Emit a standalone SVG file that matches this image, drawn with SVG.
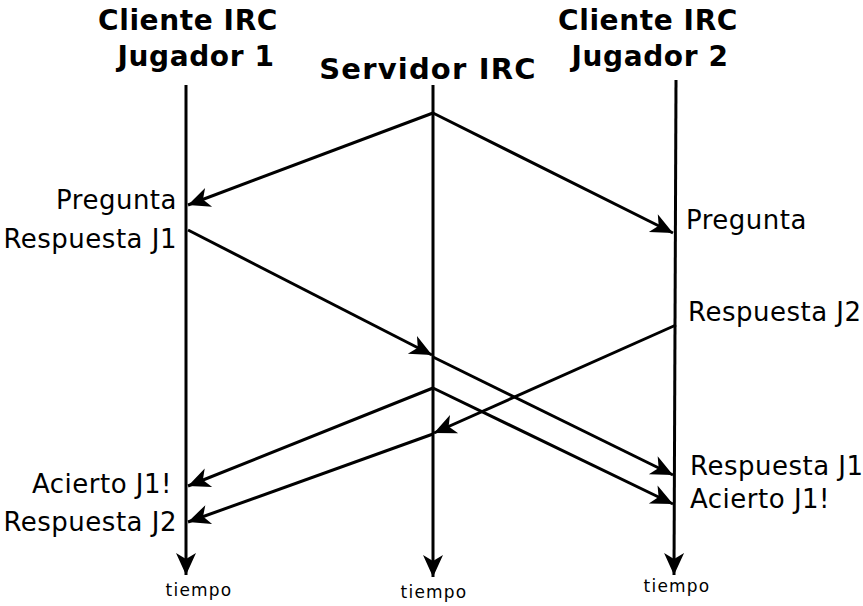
<svg xmlns="http://www.w3.org/2000/svg" width="863" height="606" viewBox="0 0 863 606">
<style>
.t{font-family:"DejaVu Sans","Liberation Sans",sans-serif;font-size:26px;letter-spacing:0.5px;fill:#000}
.h{font-family:"DejaVu Sans","Liberation Sans",sans-serif;font-size:28px;font-weight:bold;letter-spacing:0.6px;fill:#000}
.s{font-family:"DejaVu Sans","Liberation Sans",sans-serif;font-size:17px;letter-spacing:1.2px;fill:#000}
.ln{stroke:#000;stroke-width:3;fill:none}
.ar{stroke:#000;stroke-width:3;fill:none;marker-end:url(#ah)}
</style>
<defs>
<marker id="ah" markerUnits="userSpaceOnUse" viewBox="-24 -12 26 24" refX="0" refY="0" markerWidth="26" markerHeight="24" orient="auto">
<path d="M0,0 L-22,-10 L-16,0 L-22,10 Z" fill="#000"/>
</marker>
</defs>
<g id="cliente1">
<text class="h" x="188" y="30" text-anchor="middle">Cliente IRC</text>
<text class="h" x="196" y="66" text-anchor="middle">Jugador 1</text>
<line class="ar" x1="186" y1="85" x2="186" y2="575"/>
<text class="s" x="199" y="596" text-anchor="middle">tiempo</text>
</g>
<g id="servidor">
<text class="h" x="428" y="79" text-anchor="middle" style="font-size:29px;letter-spacing:1.2px">Servidor IRC</text>
<line class="ar" x1="433" y1="85" x2="433" y2="577"/>
<text class="s" x="434" y="598" text-anchor="middle">tiempo</text>
</g>
<g id="cliente2">
<text class="h" x="648" y="30" text-anchor="middle">Cliente IRC</text>
<text class="h" x="650" y="66" text-anchor="middle">Jugador 2</text>
<line class="ar" x1="676" y1="80" x2="674" y2="575"/>
<text class="s" x="677" y="592" text-anchor="middle">tiempo</text>
</g>
<g id="connectors">
<line class="ar" x1="433" y1="113" x2="188" y2="205"/>
<line class="ar" x1="433" y1="113" x2="673" y2="233"/>
<line class="ar" x1="188" y1="230" x2="432" y2="355"/>
<line class="ar" x1="433" y1="357" x2="673" y2="475"/>
<line class="ar" x1="433" y1="388" x2="188" y2="486"/>
<line class="ar" x1="433" y1="388" x2="673" y2="504"/>
<line class="ar" x1="676" y1="325" x2="434" y2="433"/>
<line class="ar" x1="433" y1="434" x2="188" y2="522"/>
</g>
<g id="labels">
<text class="t" x="177" y="209" text-anchor="end">Pregunta</text>
<text class="t" x="177" y="248" text-anchor="end">Respuesta J1</text>
<text class="t" x="172" y="493" text-anchor="end">Acierto J1!</text>
<text class="t" x="177" y="531" text-anchor="end">Respuesta J2</text>
<text class="t" x="686" y="229">Pregunta</text>
<text class="t" x="688" y="321">Respuesta J2</text>
<text class="t" x="690" y="475">Respuesta J1</text>
<text class="t" x="690" y="508">Acierto J1!</text>
</g>
</svg>
